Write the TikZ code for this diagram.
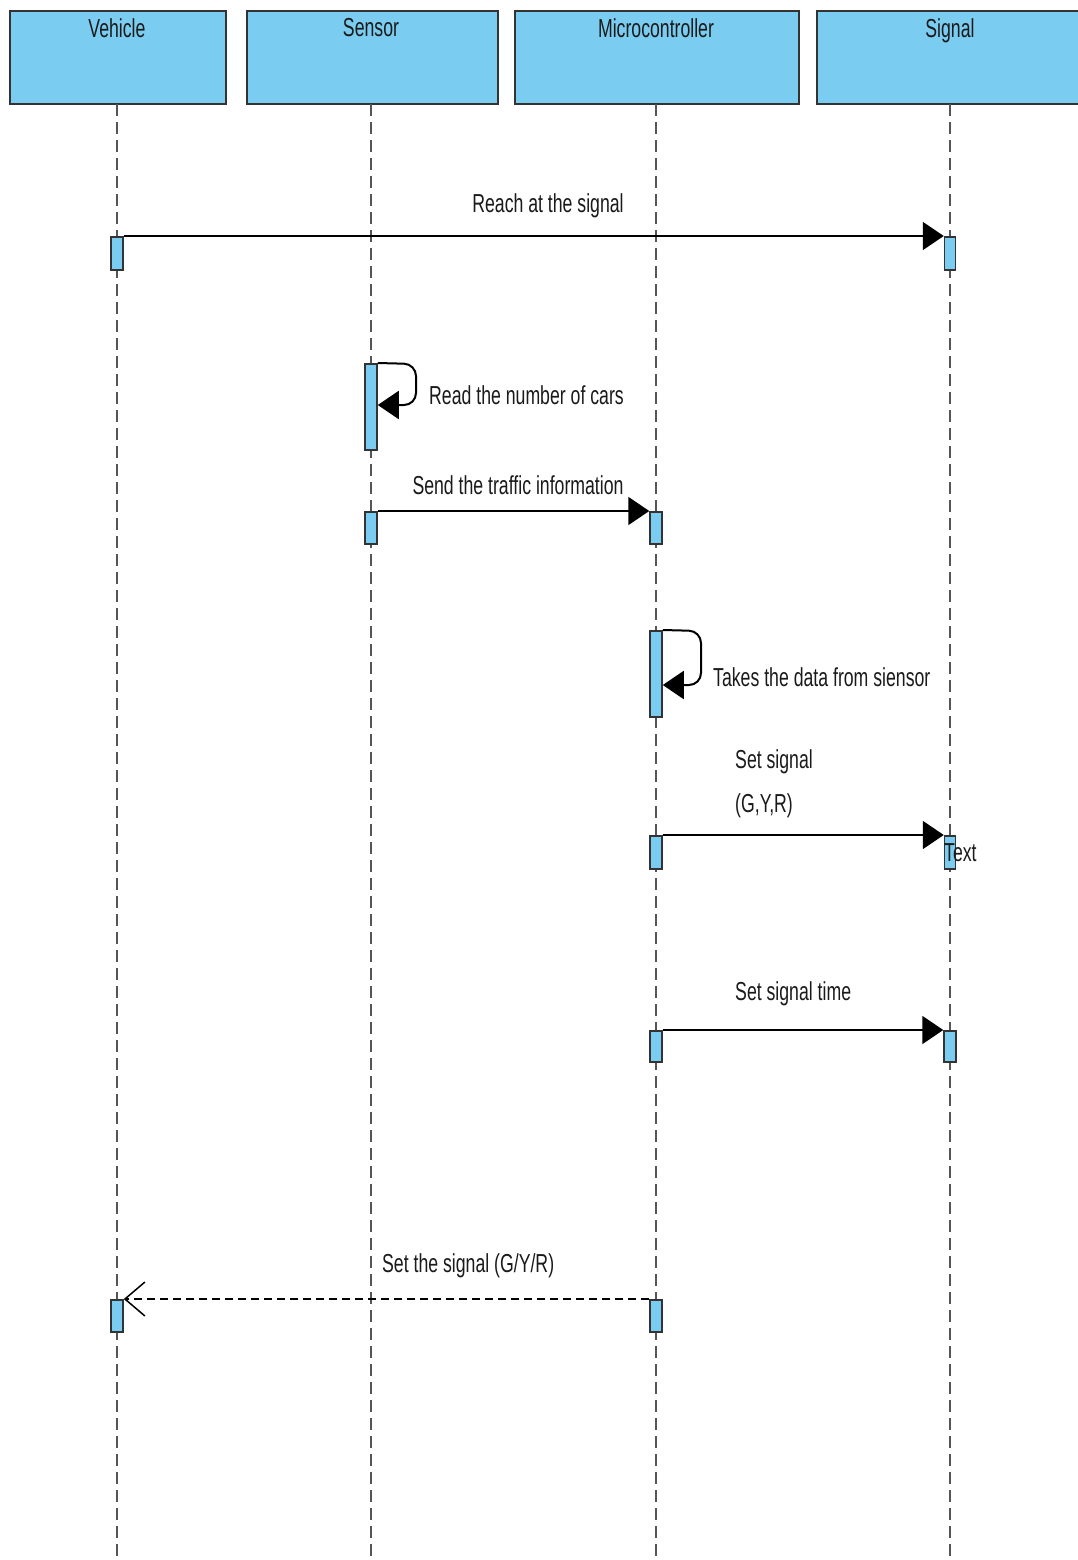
\documentclass[tikz,border=0pt]{standalone}
\usepackage{fontspec}
\setmainfont{Liberation Sans}[FakeStretch=0.68]
\usetikzlibrary{arrows.meta}
\definecolor{boxblue}{HTML}{7ACCF0}
\definecolor{edgegray}{HTML}{333333}
\definecolor{lifegray}{HTML}{555555}
\definecolor{txt}{HTML}{1A1A1A}
\begin{document}
\begin{tikzpicture}[x=1pt,y=-1pt,
  header/.style={draw=edgegray,line width=2pt,fill=boxblue,anchor=north west,inner sep=0pt},
  htext/.style={font=\fontsize{26}{30}\selectfont,text=txt,anchor=north},
  act/.style={draw=edgegray,line width=1.5pt,fill=boxblue,anchor=north,minimum width=12pt,inner sep=0pt},
  lifeline/.style={draw=lifegray,line width=1.5pt,dash pattern=on 12pt off 6pt},
  msg/.style={draw=black,line width=2pt,-{Triangle[length=21pt,width=28pt]}},
  ret/.style={draw=black,line width=2pt,dash pattern=on 8pt off 5pt,-{Straight Barb[length=20pt,width=34pt,line width=1.5pt]}},
  lbl/.style={font=\fontsize{26}{30}\selectfont,text=txt,inner sep=0pt}
]
\useasboundingbox (0,0) rectangle (1077,1560);
% headers
\node[header,minimum width=216pt,minimum height=93pt] (hV) at (9,10) {};
\node[header,minimum width=251pt,minimum height=93pt] (hS) at (246,10) {};
\node[header,minimum width=284pt,minimum height=93pt] (hM) at (514,10) {};
\node[header,minimum width=263pt,minimum height=93pt] (hG) at (816,10) {};
\node[htext] (tV) at (117,15) {Vehicle};
\node[htext] (tS) at (371,15) {Sensor};
\node[htext] (tM) at (656,15) {Microcontroller};
\node[htext] (tG) at (950,15) {Signal};
% lifeline ends
\coordinate (eV) at (117,1560);
\coordinate (eS) at (371,1560);
\coordinate (eM) at (656,1560);
\coordinate (eG) at (950,1560);
\coordinate (sV) at (117,104);
\coordinate (sS) at (371,104);
\coordinate (sM) at (656,104);
\coordinate (sG) at (950,104);
\draw[lifeline] (sV) -- (eV);
\draw[lifeline] (sS) -- (eS);
\draw[lifeline] (sM) -- (eM);
\draw[lifeline] (sG) -- (eG);
% activations
\node[act,minimum height=33pt] (aV1) at (117,236) {};
\node[act,minimum height=33pt,minimum width=11pt] (aG1) at (950,236) {};
\node[act,minimum height=86pt] (aS1) at (371,363) {};
\node[act,minimum height=32pt] (aS2) at (371,511) {};
\node[act,minimum height=32pt] (aM1) at (656,511) {};
\node[act,minimum height=86pt] (aM2) at (656,630) {};
\node[act,minimum height=33pt] (aM3) at (656,835) {};
\node[act,minimum height=33pt,minimum width=11pt] (aG2) at (950,835) {};
\node[act,minimum height=31pt] (aM4) at (656,1030) {};
\node[act,minimum height=31pt] (aG3) at (950,1030) {};
\node[act,minimum height=32pt] (aM5) at (656,1299) {};
\node[act,minimum height=32pt] (aV2) at (117,1299) {};
% messages
\draw[msg] (aV1.north east) -- (aG1.north west);
\node[lbl] (l1) at (548,206) {Reach at the signal};
\draw[line width=2pt,rounded corners=12pt,-{Triangle[length=21pt,width=28pt]}]
  (aS1.north east) -- (416,364) -- (416,405) -- (aS1.east |- 0,405);
\node[lbl,anchor=west] (l2) at (429,395) {Read the number of cars};
\draw[msg] (aS2.north east) -- (aM1.north west);
\node[lbl] (l3) at (518,485) {Send the traffic information};
\draw[line width=2pt,rounded corners=12pt,-{Triangle[length=21pt,width=28pt]}]
  (aM2.north east) -- (701,631) -- (701,685) -- (aM2.east |- 0,685);
\node[lbl,anchor=west] (l4) at (713,677) {Takes the data from siensor};
\draw[msg] (aM3.north east) -- (aG2.north west);
\node[lbl,anchor=west] (l5) at (735,762) {Set signal};
\node[lbl,anchor=west] (l5b) at (735,806) {(G,Y,R)};
\node[lbl,anchor=west] (l5c) at (944,853) {Text};
\draw[msg] (aM4.north east) -- (aG3.north west);
\node[lbl,anchor=west] (l6) at (735,994) {Set signal time};
\draw[ret] (aM5.north west) -- (aV2.north east);
\node[lbl,anchor=west] (l7) at (382,1266) {Set the signal (G/Y/R)};
\end{tikzpicture}
\end{document}
